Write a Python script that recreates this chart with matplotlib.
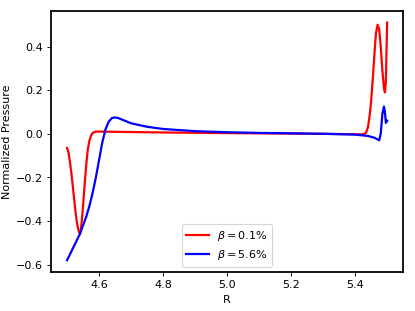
import matplotlib
matplotlib.use('Agg')
import matplotlib.pyplot as plt

# beta = 0.1 %
r_low = [4.500, 4.505, 4.510, 4.515, 4.520, 4.525, 4.530, 4.535, 4.540, 4.543,
         4.546, 4.550, 4.555, 4.560, 4.565, 4.570, 4.575, 4.580, 4.590, 4.600,
         4.700, 4.800, 5.000, 5.200, 5.400, 5.420, 5.430, 5.435, 5.440, 5.445,
         5.450, 5.455, 5.460, 5.465, 5.470, 5.475, 5.480, 5.485, 5.490, 5.493,
         5.496, 5.498, 5.500]
p_low = [-0.065, -0.09, -0.14, -0.20, -0.27, -0.34, -0.40, -0.44, -0.46, -0.44,
         -0.40, -0.33, -0.23, -0.14, -0.07, -0.03, -0.008, 0.004, 0.010, 0.010,
         0.008, 0.006, 0.003, 0.001, -0.002, -0.003, 0.000, 0.008, 0.03, 0.08,
         0.15, 0.25, 0.36, 0.46, 0.50, 0.48, 0.40, 0.29, 0.21, 0.19,
         0.24, 0.38, 0.51]

# beta = 5.6 %
r_high = [4.500, 4.520, 4.540, 4.560, 4.570, 4.580, 4.590, 4.600, 4.610, 4.620,
          4.630, 4.640, 4.650, 4.660, 4.680, 4.700, 4.750, 4.800, 4.900, 5.000,
          5.100, 5.200, 5.300, 5.400, 5.440, 5.460, 5.470, 5.475, 5.480, 5.485,
          5.490, 5.493, 5.496, 5.500]
p_high = [-0.58, -0.52, -0.46, -0.38, -0.33, -0.27, -0.20, -0.12, -0.04, 0.02,
          0.055, 0.072, 0.075, 0.072, 0.060, 0.048, 0.032, 0.022, 0.012, 0.007,
          0.004, 0.002, 0.000, -0.004, -0.010, -0.018, -0.026, -0.030, 0.000, 0.09,
          0.125, 0.10, 0.05, 0.06]

fig = plt.figure(figsize=(5.19, 3.89), dpi=80)
ax = fig.add_subplot(111)
fig.subplots_adjust(left=0.123, right=0.971, bottom=0.125, top=0.965)

ax.plot(r_low, p_low, color='red', lw=2, label=r'$\beta = 0.1\%$')
ax.plot(r_high, p_high, color='blue', lw=2, label=r'$\beta = 5.6\%$')

ax.set_xlabel('R')
ax.set_ylabel('Normalized Pressure')
ax.set_xticks([4.6, 4.8, 5.0, 5.2, 5.4])
ax.set_yticks([-0.6, -0.4, -0.2, 0.0, 0.2, 0.4])
for s in ax.spines.values():
    s.set_linewidth(1.6)
ax.legend(loc='lower center')

fig.savefig('out.png', dpi=80)
